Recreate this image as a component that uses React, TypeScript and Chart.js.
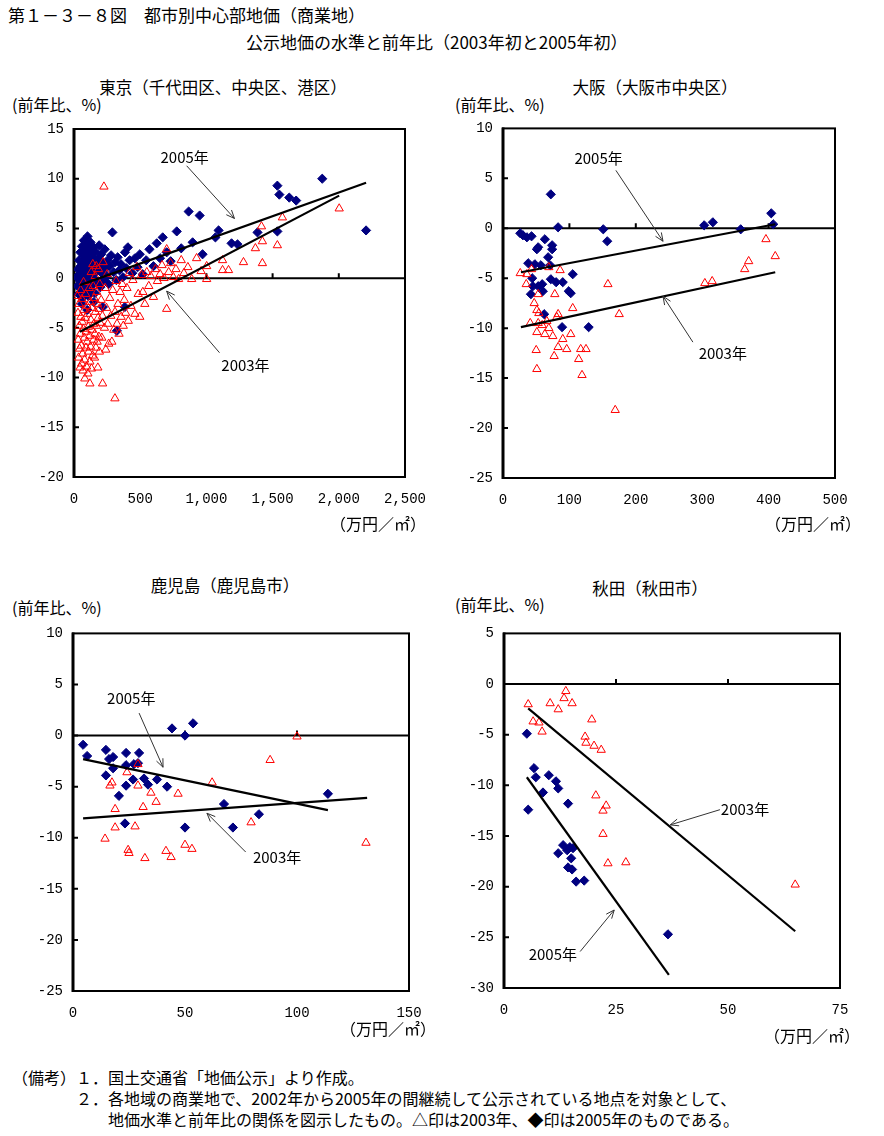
import React, { useEffect, useRef } from 'react';
import { Chart, registerables } from 'chart.js';

Chart.register(...registerables);

type P = [number, number];

// ---------------- Tokyo ----------------
const tokyo2005: P[] = [
  [20,0.1],[25,-0.8],[30,0.9],[35,-1.6],[38,1.8],[40,0.4],[45,-0.3],[48,2.6],[50,1.2],[55,-1.1],[58,0.6],[60,3.2],[62,-2.0],[65,1.6],[68,0.0],[70,2.2],[72,-0.6],[75,3.8],[78,1.0],[80,-1.4],[82,2.8],[85,0.3],[88,1.9],[90,-0.9],[92,3.4],[95,0.8],[98,-0.2],[100,2.4],[102,4.2],[105,1.4],[108,-1.8],[110,0.2],[112,3.0],[115,1.9],[118,-0.5],[120,2.6],[122,0.9],[125,3.6],[128,-1.2],[130,1.5],[135,0.4],[138,2.2],[140,-0.7],[145,1.1],[148,3.1],[150,0.0],[155,1.8],[158,-1.5],[160,2.7],[165,0.6],[170,1.4],[175,-0.4],[180,2.0],[185,0.9],[190,3.3],[195,1.2],[200,-0.9],[205,2.4],[210,0.5],[218,1.6],[225,-0.2],[232,2.9],[240,1.0],[248,0.2],[255,1.8],[262,-0.6],[270,1.2],[280,2.3],[290,4.6],[300,0.6],[310,1.6],[320,-0.2],[330,2.1],[342,0.8],[355,1.4],[370,0.1],[385,2.6],[395,1.0],[407,3.1],[420,1.8],[440,0.5],[460,2.0],[480,1.1],[497,2.4],[520,0.4],[545,1.8],[570,2.9],[600,1.2],[625,3.5],[650,2.0],[670,4.1],[700,2.6],[730,1.7],[776,4.7],[810,3.0],[866,6.7],[896,3.6],[949,6.3],[971,2.4],[1068,4.1],[1092,4.8],[1190,3.5],[1235,3.4],[1386,4.6],[1536,4.7],[1536,9.3],[1551,8.4],[1626,8.1],[1678,7.8],[1875,10.0],[2206,4.8],
  [60,-2.6],[100,-3.2],[150,-2.4],[218,-2.9],[384,-2.9],[324,-5.3],
];
const tokyo2003: P[] = [
  [25,-1.8],[30,-3.5],[32,-6.2],[35,-8.0],[38,-2.6],[40,-4.8],[42,-7.1],[45,-9.0],[48,-5.6],[50,-1.2],[52,-3.9],[55,-6.8],[58,-8.6],[60,-2.1],[62,-4.4],[65,-7.6],[68,-9.3],[70,-5.1],[72,-0.4],[75,-3.2],[78,-6.0],[80,-8.2],[82,-10.1],[85,-4.0],[88,-1.6],[90,-7.0],[92,-5.4],[95,-8.9],[98,-2.8],[100,-6.4],
  [102,-3.6],[105,-9.6],[108,-4.9],[110,-7.4],[120,-10.6],[115,-1.0],[118,-5.8],[120,-8.4],[122,-2.4],[125,-6.9],[128,-4.2],[130,0.6],[132,-9.1],[135,-5.2],[138,-3.0],[140,-7.8],[142,1.4],[145,-0.8],[148,-6.2],[150,-4.6],[152,-2.0],[155,-8.0],[158,-5.6],[160,0.2],[162,-3.4],[165,-7.0],[168,1.2],[170,-4.8],[172,-1.4],[175,-6.4],[178,-2.6],[180,-9.0],[182,-4.0],[185,0.9],[188,-5.9],[190,-3.1],[192,-7.4],[195,-0.6],[198,-4.5],[216,-10.6],
  [205,-2.2],[210,-6.0],[215,-3.8],[220,1.6],[226,9.2],[230,-5.0],[235,-1.0],[240,-7.2],[245,-3.0],[250,0.4],[255,-4.6],[262,-6.6],[270,-2.0],[278,-3.8],[286,-6.4],[292,-1.2],[300,-5.2],[309,-12.1],[310,-3.4],[318,-0.3],[325,-4.6],[332,-2.6],[340,-5.6],[348,-1.4],[356,-3.9],[365,-0.6],[372,-4.8],[380,-2.2],[390,-3.5],[400,-1.0],[410,-4.3],[418,0.5],
  [430,-2.8],[445,-0.2],[460,-3.6],[474,1.1],[485,-1.6],[497,-3.9],[510,0.3],[520,-1.4],[535,-2.6],[550,0.6],[565,-0.8],[580,0.2],[600,-1.9],[615,0.9],[630,-0.3],[650,0.4],[665,1.3],[680,0.0],[700,2.9],[700,-3.1],[715,0.6],[730,1.5],[750,0.1],[770,0.9],[790,-0.1],[810,1.8],[830,0.5],[860,1.1],[889,-0.1],
  [926,2.0],[960,0.7],[1002,-0.1],[1002,1.2],[1122,1.8],[1122,0.8],[1167,0.8],[1280,1.6],[1370,3.0],[1416,5.2],[1423,3.7],[1423,1.5],[1536,3.3],[1574,6.1],[2003,7.0],
];
const tokyoLine2005: P[] = [[45, -0.7], [2206, 9.6]];
const tokyoLine2003: P[] = [[45, -5.4], [2003, 8.3]];
const tokyoXTicks = [0, 500, 1000, 1500, 2000, 2500];
const tokyoYTicks = [15, 10, 5, 0, -5, -10, -15, -20];

// ---------------- Osaka ----------------
const osaka2005: P[] = [
  [72,3.4],[83,0.1],[151,-0.1],[157,-1.3],[26,-0.5],[30,-0.7],[36,-0.9],[43,-0.8],[63,-1.1],[51,-2.1],[53,-1.9],[74,-1.7],[74,-2.1],[68,-2.9],[38,-3.5],[48,-3.6],[57,-3.7],[71,-3.7],[105,-4.6],[44,-5.0],[72,-5.1],[80,-5.4],[90,-5.4],[45,-5.8],[59,-5.6],[53,-5.8],[60,-6.3],[99,-6.3],[102,-6.5],[42,-6.6],[62,-8.6],[89,-9.9],[129,-9.9],
  [303,0.3],[316,0.6],[358,-0.1],[404,1.5],[407,0.4],
];
const osaka2003: P[] = [
  [26,-4.5],[36,-4.6],[43,-4.1],[35,-5.6],[86,-4.2],[69,-3.9],[53,-6.6],[78,-6.6],[47,-7.5],[51,-8.2],[54,-8.5],[105,-8.0],[83,-8.6],[81,-8.9],[41,-9.5],[53,-9.5],[59,-9.7],[66,-9.3],[69,-10.0],[51,-10.4],[63,-10.6],[75,-10.8],[102,-10.6],[90,-11.1],[83,-11.9],[96,-12.1],[50,-12.2],[117,-12.1],[125,-12.1],[77,-12.8],[114,-13.1],[51,-14.1],[119,-14.7],
  [158,-5.6],[175,-8.6],[169,-18.2],[304,-5.5],[315,-5.3],[364,-4.1],[370,-3.3],[396,-1.1],[410,-2.8],
];
const osakaLine2005: P[] = [[27, -4.4], [410, 0.4]];
const osakaLine2003: P[] = [[27, -9.9], [410, -4.4]];
const osakaXTicks = [0, 100, 200, 300, 400, 500];
const osakaYTicks = [10, 5, 0, -5, -10, -15, -20, -25];

// ---------------- Kagoshima ----------------
const kago2005: P[] = [
  [4.5,-0.9],[6.3,-2.0],[14.7,-1.4],[16.1,-2.3],[17.9,-2.1],[23.7,-1.7],[29.5,-1.7],[29,-2.7],[27.2,-2.8],[23.7,-2.9],[17.9,-3.2],[14.7,-3.9],[26.8,-4.3],[31.7,-4.2],[33.5,-4.8],[37.5,-4.3],[23.7,-4.9],[42,-5.0],[20.5,-5.9],[44.2,0.7],[50,0.0],[53.6,1.2],[67.4,-6.7],[71.4,-9.0],[50,-9.0],[23.2,-8.6],[83,-7.7],[113.8,-5.7],
];
const kago2003: P[] = [
  [29,-2.8],[24.1,-3.6],[17.4,-4.6],[16.5,-4.9],[29,-4.9],[34.8,-5.6],[37.1,-6.5],[46.9,-5.7],[62.1,-4.6],[18.8,-7.2],[31.3,-7.0],[18.8,-9.0],[27.7,-8.9],[14.3,-10.1],[24.6,-11.2],[25,-11.5],[32.1,-12.0],[41.5,-11.3],[43.8,-11.9],[50,-10.7],[53.1,-11.1],[79.5,-8.5],[100,-0.1],[88,-2.4],[130.8,-10.5],
];
const kagoLine2005: P[] = [[4.5, -2.3], [113.8, -7.3]];
const kagoLine2003: P[] = [[4.5, -8.1], [131.3, -6.1]];
const kagoXTicks = [0, 50, 100, 150];
const kagoYTicks = [10, 5, 0, -5, -10, -15, -20, -25];

// ---------------- Akita ----------------
const akita2005: P[] = [
  [5.1,-4.9],[5.4,-12.4],[6.7,-8.3],[7.1,-9.2],[8.7,-10.7],[10.0,-9.0],[11.6,-9.6],[12.1,-10.3],[14.3,-11.8],[12.1,-16.7],[13.2,-15.9],[14.1,-16.4],[14.7,-16.1],[15.4,-16.2],[15.0,-17.2],[14.3,-18.1],[15.2,-18.3],[16.1,-19.5],[17.9,-19.4],[36.6,-24.7],
];
const akita2003: P[] = [
  [5.4,-2.0],[13.8,-0.7],[13.4,-1.4],[10.3,-1.9],[12.1,-2.5],[15.2,-1.9],[6.5,-3.7],[7.8,-3.8],[8.5,-4.7],[19.6,-3.5],[18.1,-5.2],[18.3,-5.8],[20.1,-6.1],[21.7,-6.5],[20.5,-11.0],[22.8,-12.0],[22.1,-12.5],[22.1,-14.8],[23.2,-17.7],[27.2,-17.6],[65,-19.8],
];
const akitaLine2005: P[] = [[5.1, -9.2], [36.8, -28.7]];
const akitaLine2003: P[] = [[5.4, -2.4], [65, -24.4]];
const akitaXTicks = [0, 25, 50, 75];
const akitaYTicks = [5, 0, -5, -10, -15, -20, -25, -30];

// ---------------- annotations (data coordinates) ----------------
type Note = { text: string; at: P; from: P; to: P };
const tokyoNotes: Note[] = [
  { text: '2005年', at: [836, 12.2], from: [851, 11.3], to: [1212, 6.0] },
  { text: '2003年', at: [1295, -8.75], from: [1099, -7.5], to: [700, -1.3] },
];
const osakaNotes: Note[] = [
  { text: '2005年', at: [144, 7.0], from: [170, 5.8], to: [241, -1.3] },
  { text: '2003年', at: [331, -12.5], from: [286, -11.4], to: [241, -6.8] },
];
const kagoNotes: Note[] = [
  { text: '2005年', at: [26, 3.6], from: [29.5, 2.2], to: [40.2, -3.1] },
  { text: '2003年', at: [91.1, -11.9], from: [77.1, -11.4], to: [59.8, -7.6] },
];
const akitaNotes: Note[] = [
  { text: '2003年', at: [53.8, -12.4], from: [48.2, -12.4], to: [37.1, -13.9] },
  { text: '2005年', at: [10.9, -26.7], from: [17, -26.4], to: [24.6, -22.3] },
];

const FONT_JP = '"Noto Sans CJK JP", "Noto Sans", sans-serif';
const FONT_NUM = '"Liberation Mono", "DejaVu Sans Mono", monospace';

type Panel = {
  left: number; top: number; W: number; H: number;
  yW: number; padT: number; padR: number; padB: number; xH: number;
  xTicks: number[]; yTicks: number[];
  d2003: P[]; d2005: P[]; l2003: P[]; l2005: P[]; notes: Note[];
};

const panels: Panel[] = [
  { left: 0, top: 110, W: 440, H: 420, yW: 74, padT: 19, padR: 33, padB: 23, xH: 30,
    xTicks: tokyoXTicks, yTicks: tokyoYTicks, d2003: tokyo2003, d2005: tokyo2005, l2003: tokyoLine2003, l2005: tokyoLine2005, notes: tokyoNotes },
  { left: 440, top: 110, W: 444, H: 420, yW: 63, padT: 17, padR: 49, padB: 22, xH: 30,
    xTicks: osakaXTicks, yTicks: osakaYTicks, d2003: osaka2003, d2005: osaka2005, l2003: osakaLine2003, l2005: osakaLine2005, notes: osakaNotes },
  { left: 0, top: 615, W: 440, H: 430, yW: 73, padT: 16, padR: 31, padB: 24, xH: 30,
    xTicks: kagoXTicks, yTicks: kagoYTicks, d2003: kago2003, d2005: kago2005, l2003: kagoLine2003, l2005: kagoLine2005, notes: kagoNotes },
  { left: 440, top: 615, W: 444, H: 430, yW: 64, padT: 11, padR: 44, padB: 27, xH: 30,
    xTicks: akitaXTicks, yTicks: akitaYTicks, d2003: akita2003, d2005: akita2005, l2003: akitaLine2003, l2005: akitaLine2005, notes: akitaNotes },
];

const xy = (a: P[]) => a.map(([x, y]) => ({ x, y }));

function makePlugin(p: Panel) {
  return {
    id: 'frameNotes',
    beforeDatasetsDraw(chart: any) {
      const { ctx, chartArea: a, scales } = chart;
      const x = scales.x, y = scales.y;
      ctx.save();
      ctx.strokeStyle = '#000';
      const y0 = y.getPixelForValue(0);
      ctx.lineWidth = 2;
      ctx.beginPath();
      ctx.moveTo(a.left, y0);
      ctx.lineTo(a.right, y0);
      ctx.stroke();
      ctx.beginPath();
      for (const v of p.xTicks) {
        const px = x.getPixelForValue(v);
        if (px <= a.left + 2 || px >= a.right - 2) continue;
        ctx.moveTo(px, y0);
        ctx.lineTo(px, y0 - 5);
      }
      for (const v of p.yTicks) {
        const py = y.getPixelForValue(v);
        if (py <= a.top + 2 || py >= a.bottom - 2) continue;
        ctx.moveTo(a.left, py);
        ctx.lineTo(a.left + 5, py);
      }
      ctx.stroke();
      ctx.lineWidth = 2;
      ctx.strokeRect(a.left, a.top, a.right - a.left, a.bottom - a.top);
      ctx.lineWidth = 3;
      ctx.beginPath();
      ctx.moveTo(a.left, a.top - 1);
      ctx.lineTo(a.left, a.bottom + 1);
      ctx.stroke();
      ctx.restore();
    },
    afterDatasetsDraw(chart: any) {
      const { ctx, scales } = chart;
      const x = scales.x, y = scales.y;
      ctx.save();
      for (const n of p.notes) {
        const fx = x.getPixelForValue(n.from[0]), fy = y.getPixelForValue(n.from[1]);
        const tx = x.getPixelForValue(n.to[0]), ty = y.getPixelForValue(n.to[1]);
        ctx.strokeStyle = '#333';
        ctx.lineWidth = 1;
        ctx.beginPath();
        ctx.moveTo(fx, fy);
        ctx.lineTo(tx, ty);
        const ang = Math.atan2(ty - fy, tx - fx);
        const hl = 9, ha = 0.4;
        ctx.moveTo(tx, ty);
        ctx.lineTo(tx - hl * Math.cos(ang - ha), ty - hl * Math.sin(ang - ha));
        ctx.moveTo(tx, ty);
        ctx.lineTo(tx - hl * Math.cos(ang + ha), ty - hl * Math.sin(ang + ha));
        ctx.stroke();
        ctx.fillStyle = '#000';
        ctx.font = '15px ' + FONT_JP;
        ctx.textAlign = 'center';
        ctx.textBaseline = 'middle';
        ctx.fillText(n.text, x.getPixelForValue(n.at[0]), y.getPixelForValue(n.at[1]));
      }
      ctx.restore();
    },
  };
}

function buildConfig(p: Panel): any {
  const tickFont = { family: FONT_NUM, size: 14 };
  return {
    type: 'scatter',
    data: {
      datasets: [
        { data: xy(p.l2005), showLine: true, borderColor: '#000', borderWidth: 2.2, pointRadius: 0 },
        { data: xy(p.l2003), showLine: true, borderColor: '#000', borderWidth: 2.2, pointRadius: 0 },
        { data: xy(p.d2003), pointStyle: 'triangle', pointRadius: 4.8, borderColor: '#ff0000', backgroundColor: 'rgba(255,255,255,0)', borderWidth: 1 },
        { data: xy(p.d2005), pointStyle: 'rectRot', pointRadius: 4.6, borderColor: '#000080', backgroundColor: '#000080', borderWidth: 1 },
      ],
    },
    options: {
      responsive: false,
      animation: false,
      devicePixelRatio: 1,
      events: [],
      layout: { padding: { left: 0, right: p.padR, top: p.padT, bottom: p.padB } },
      plugins: { legend: { display: false }, tooltip: { enabled: false } },
      scales: {
        x: {
          type: 'linear',
          min: p.xTicks[0],
          max: p.xTicks[p.xTicks.length - 1],
          afterBuildTicks: (s: any) => { s.ticks = p.xTicks.map((v) => ({ value: v })); },
          afterFit: (s: any) => { s.height = p.xH; },
          grid: { display: false, drawTicks: false },
          border: { display: false },
          ticks: { font: tickFont, color: '#000', padding: 14, autoSkip: false, maxRotation: 0,
            callback: (v: number) => v.toLocaleString('en-US') },
        },
        y: {
          type: 'linear',
          min: Math.min(...p.yTicks),
          max: Math.max(...p.yTicks),
          afterBuildTicks: (s: any) => { s.ticks = [...p.yTicks].reverse().map((v) => ({ value: v })); },
          afterFit: (s: any) => { s.width = p.yW; },
          grid: { display: false, drawTicks: false },
          border: { display: false },
          ticks: { font: tickFont, color: '#000', padding: 10, autoSkip: false, callback: (v: number) => String(v) },
        },
      },
    },
    plugins: [makePlugin(p)],
  };
}

function ScatterPanel({ p }: { p: Panel }) {
  const ref = useRef<HTMLCanvasElement>(null);
  useEffect(() => {
    const chart = new Chart(ref.current as HTMLCanvasElement, buildConfig(p));
    return () => chart.destroy();
  }, [p]);
  return (
    <canvas ref={ref} width={p.W} height={p.H}
      style={{ position: 'absolute', left: p.left, top: p.top, width: p.W, height: p.H }} />
  );
}

function Txt({ x, y, s, size, center }: { x: number; y: number; s: string; size: number; center?: boolean }) {
  return (
    <div style={{
      position: 'absolute', left: x, top: y, whiteSpace: 'nowrap', fontFamily: FONT_JP, fontSize: size,
      lineHeight: 1, color: '#000', transform: center ? 'translate(-50%,-50%)' : 'translate(0,-50%)',
    }}>{s}</div>
  );
}

export default function App() {
  return (
    <div style={{ position: 'absolute', left: 0, top: 0, width: 884, height: 1136, background: '#fff', overflow: 'hidden' }}>
      <Txt x={8} y={14} s="第１－３－８図　都市別中心部地価（商業地）" size={17} />
      <Txt x={246} y={41} s="公示地価の水準と前年比（2003年初と2005年初）" size={17} />

      <Txt x={223} y={87} s="東京（千代田区、中央区、港区）" size={16.5} center />
      <Txt x={655} y={87} s="大阪（大阪市中央区）" size={16.5} center />
      <Txt x={225} y={585} s="鹿児島（鹿児島市）" size={16.5} center />
      <Txt x={650} y={588} s="秋田（秋田市）" size={16.5} center />

      <Txt x={12} y={104} s="(前年比、%)" size={16} />
      <Txt x={455} y={104} s="(前年比、%)" size={16} />
      <Txt x={12} y={607} s="(前年比、%)" size={16} />
      <Txt x={455} y={604} s="(前年比、%)" size={16} />

      {panels.map((p, i) => <ScatterPanel key={i} p={p} />)}

      <Txt x={378} y={523} s="（万円／㎡）" size={16} center />
      <Txt x={813} y={523} s="（万円／㎡）" size={16} center />
      <Txt x={388} y={1028} s="（万円／㎡）" size={16} center />
      <Txt x={812} y={1035} s="（万円／㎡）" size={16} center />

      <Txt x={12} y={1077} s="（備考）１．国土交通省「地価公示」より作成。" size={16} />
      <Txt x={76} y={1098} s="２．各地域の商業地で、2002年から2005年の間継続して公示されている地点を対象として、" size={16} />
      <Txt x={108} y={1119} s="地価水準と前年比の関係を図示したもの。△印は2003年、◆印は2005年のものである。" size={16} />
    </div>
  );
}
